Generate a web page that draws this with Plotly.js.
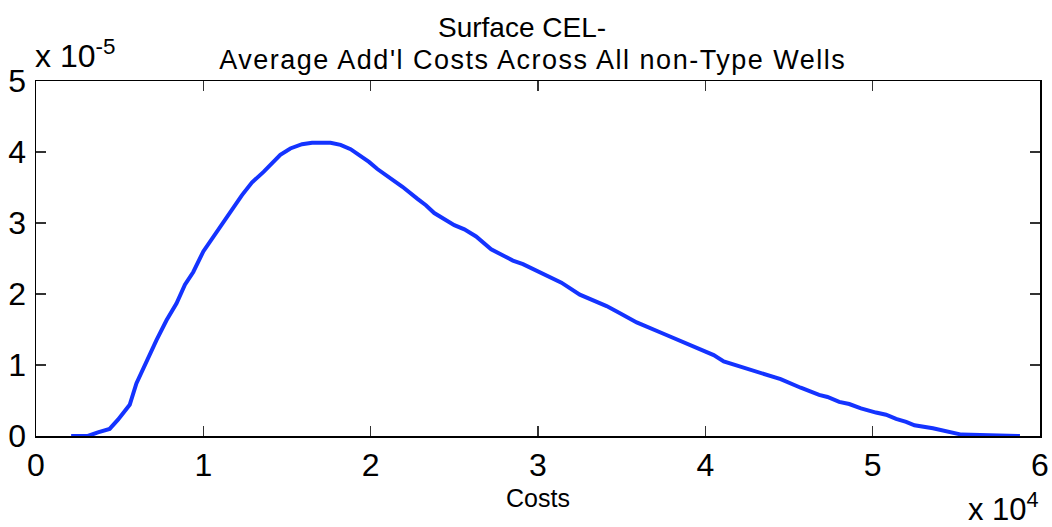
<!DOCTYPE html>
<html>
<head>
<meta charset="utf-8">
<script src="https://cdn.plot.ly/plotly-3.0.1.min.js"></script>
<style>
html,body{margin:0;padding:0;background:#fff;}
#chart{width:1052px;height:527px;}
.annotation[data-index="1"] text{letter-spacing:1.5px;}
</style>
</head>
<body>
<div id="chart"></div>
<script>
// Costs (x 10^4)
const costs = [0.21,0.31,0.37,0.44,0.49,0.56,0.60,0.65,0.72,0.78,0.84,0.89,0.94,1.00,1.06,1.12,1.18,1.23,1.29,1.36,1.46,1.52,1.59,1.65,1.76,1.82,1.88,1.99,2.04,2.11,2.19,2.28,2.33,2.38,2.50,2.56,2.63,2.72,2.85,2.91,3.01,3.07,3.14,3.25,3.41,3.49,3.59,3.75,3.85,3.97,4.05,4.11,4.22,4.29,4.35,4.40,4.45,4.57,4.68,4.73,4.80,4.86,4.93,5.02,5.08,5.14,5.20,5.25,5.36,5.53,5.88];
// Density (x 10^-5)
const density = [0.00,0.00,0.05,0.10,0.23,0.44,0.74,1.00,1.35,1.63,1.87,2.13,2.31,2.60,2.81,3.02,3.23,3.39,3.57,3.72,3.96,4.05,4.11,4.13,4.13,4.10,4.04,3.86,3.76,3.65,3.51,3.34,3.25,3.14,2.97,2.91,2.81,2.63,2.47,2.42,2.31,2.23,2.16,1.99,1.83,1.73,1.60,1.44,1.34,1.22,1.14,1.05,0.97,0.92,0.88,0.83,0.80,0.68,0.58,0.55,0.48,0.45,0.39,0.33,0.30,0.24,0.20,0.15,0.11,0.02,0.00];
const xTicks = [0,1,2,3,4,5,6];
const yTicks = [0,1,2,3,4,5];
const titleLines = ["Surface CEL-", "Average Add'l Costs Across All non-Type Wells"];
const xLabel = "Costs";
const yExponent = "x 10<sup>-5</sup>";
const xExponent = "x 10<sup>4</sup>";

const fam = "Liberation Sans, Arial, sans-serif";

const trace = {
  x: costs, y: density, type: 'scatter', mode: 'lines',
  line: {color: '#1433ff', width: 4}, hoverinfo: 'skip'
};

const layout = {
  width: 1052, height: 527,
  margin: {l: 36, r: 12, t: 81, b: 91},
  paper_bgcolor: '#fff', plot_bgcolor: '#fff',
  showlegend: false,
  xaxis: {
    range: [0, 6], tickvals: xTicks, ticktext: xTicks.map(String),
    showgrid: false, zeroline: false, showline: true, linecolor: '#000', linewidth: 1.5,
    mirror: 'ticks', ticks: 'inside', ticklen: 10, tickcolor: '#333', tickwidth: 1.5,
    tickfont: {family: fam, size: 32, color: '#000'}
  },
  yaxis: {
    range: [0, 5], tickvals: yTicks, ticktext: yTicks.map(String),
    showgrid: false, zeroline: false, showline: true, linecolor: '#000', linewidth: 1.5,
    mirror: 'ticks', ticks: 'inside', ticklen: 10, tickcolor: '#333', tickwidth: 1.5,
    tickfont: {family: fam, size: 32, color: '#000'}, ticklabelstandoff: 2
  },
  annotations: [
    {xref: 'paper', yref: 'paper', x: 0.484, y: 1.1014, xanchor: 'center', yanchor: 'bottom',
     text: titleLines[0], showarrow: false, font: {family: fam, size: 28, color: '#000'}},
    {xref: 'paper', yref: 'paper', x: 0.495, y: 1.0113, xanchor: 'center', yanchor: 'bottom',
     text: titleLines[1], showarrow: false, font: {family: fam, size: 27, color: '#000'}},
    {xref: 'paper', yref: 'paper', x: 0.5, y: -0.2197, xanchor: 'center', yanchor: 'bottom',
     text: xLabel, showarrow: false, font: {family: fam, size: 25, color: '#000'}},
    {xref: 'paper', yref: 'paper', x: -0.003, y: 1.014, xanchor: 'left', yanchor: 'bottom',
     text: yExponent, showarrow: false, font: {family: fam, size: 32, color: '#000'}},
    {xref: 'paper', yref: 'paper', x: 1.001, y: -0.262, xanchor: 'right', yanchor: 'bottom',
     text: xExponent, showarrow: false, font: {family: fam, size: 31, color: '#000'}}
  ]
};

Plotly.newPlot('chart', [trace], layout, {staticPlot: true, displayModeBar: false});
</script>
</body>
</html>
